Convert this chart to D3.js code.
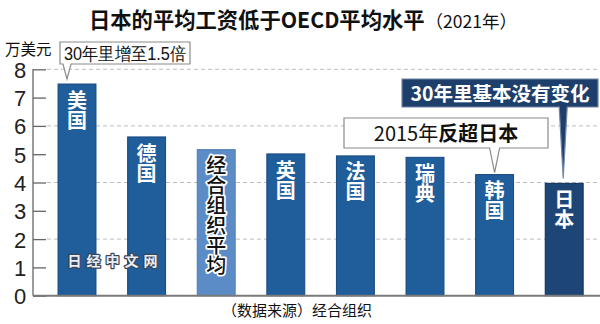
<!DOCTYPE html>
<html><head><meta charset="utf-8">
<script src="https://cdn.jsdelivr.net/npm/d3@7"></script>
<style>
html,body{margin:0;padding:0;background:#fff;}
svg{display:block;}
</style></head>
<body>
<svg id="c" width="600" height="324"></svg>
<script>
const categories = ["美国","德国","经合组织平均","英国","法国","瑞典","韩国","日本"];
const values = [7.48, 5.61, 5.16, 5.01, 4.94, 4.89, 4.28, 3.97];
const yTicks = [0,1,2,3,4,5,6,7,8];
const gridTicks = [2,4,6,8];
const title = "日本的平均工资低于OECD平均水平";
const titleYear = "（2021年）";
const unitLabel = "万美元";
const sourceText = "（数据来源）经合组织";
const noteUS = "30年里增至1.5倍";
const noteKR = ["2015年","反超日本"];
const noteJP = "30年里基本没有变化";
const watermark = "日经中文网";

const CJK = "'Noto Sans CJK SC','Noto Sans',sans-serif";
const NARROW = "'Liberation Sans Narrow','Arial Narrow','Liberation Sans',sans-serif";

const svg = d3.select("#c");
const x = d3.scaleBand().domain(categories).range([42.2, 599]).paddingInner(0.455).paddingOuter(0.2275);
const y = d3.scaleLinear().domain([0, 8]).range([295.7, 69.3]);

// gridlines
svg.append("g").selectAll("line").data(gridTicks).join("line")
  .attr("x1", 47).attr("x2", 600)
  .attr("y1", d => y(d)).attr("y2", d => y(d))
  .attr("stroke", "#bdbdbd").attr("stroke-width", 1).attr("stroke-dasharray", "4,3");

// y axis
const yAxis = d3.axisLeft(y).tickValues(yTicks).tickSize(13).tickPadding(7).tickFormat(d3.format("d"));
const ga = svg.append("g").attr("transform", "translate(46,0)").call(yAxis);
ga.select(".domain").remove();
ga.selectAll(".tick line").attr("stroke", "#666").attr("stroke-width", 1.3);
ga.selectAll(".tick text").attr("font-family", NARROW).attr("font-size", 22).attr("fill", "#222")
  .attr("x", -26).attr("text-anchor", "middle").attr("dy", "0.36em");
svg.append("line").attr("x1", 33).attr("x2", 33).attr("y1", y(8)).attr("y2", y(0))
  .attr("stroke", "#666").attr("stroke-width", 1.3);

// bars
const colorOf = d => d === "经合组织平均" ? "#5b8cc5" : d === "日本" ? "#1d4677" : "#1f5d9b";
const strokeOf = d => d === "经合组织平均" ? "#4a7cb6" : d === "日本" ? "#0f2c58" : "#17497f";
svg.append("g").selectAll("rect").data(categories).join("rect")
  .attr("x", d => x(d)).attr("width", x.bandwidth())
  .attr("y", (d, i) => y(values[i])).attr("height", (d, i) => y(0) - y(values[i]))
  .attr("fill", colorOf).attr("stroke", strokeOf).attr("stroke-width", 1);

// baseline
svg.append("line").attr("x1", 33).attr("x2", 600).attr("y1", y(0)).attr("y2", y(0))
  .attr("stroke", "#7a7a7a").attr("stroke-width", 2);

// bar labels (vertical writing mode)
svg.append("g").selectAll("text").data(categories).join("text")
  .attr("x", d => x(d) + x.bandwidth() / 2)
  .attr("y", (d, i) => y(values[i]) + 6)
  .attr("writing-mode", "vertical-rl")
  .style("text-orientation", "upright")
  .attr("font-family", CJK).attr("font-size", 20)
  .attr("font-weight", d => d === "经合组织平均" ? 500 : 700)
  .attr("fill", d => d === "经合组织平均" ? "#111" : "#fff")
  .attr("stroke", d => d === "经合组织平均" ? "#fff" : "none")
  .attr("stroke-width", 3.5).attr("paint-order", "stroke").attr("stroke-linejoin", "round")
  .text(d => d);

// watermark
svg.append("text").attr("x", 115).attr("y", 266).attr("text-anchor", "middle")
  .attr("font-family", CJK).attr("font-size", 14).attr("font-weight", 700).attr("letter-spacing", 5)
  .attr("fill", "#e9eef5").attr("stroke", "#3a4656").attr("stroke-width", 2.5)
  .attr("paint-order", "stroke").attr("stroke-linejoin", "round").text(watermark);

// title
const tt = svg.append("text").attr("x", 89).attr("y", 28).attr("font-family", CJK).attr("fill", "#111");
tt.append("tspan").attr("font-size", 21.3).attr("font-weight", 700).text(title);
tt.append("tspan").attr("font-size", 17.5).attr("font-weight", 400).attr("dx", 1).text(titleYear);

// unit
svg.append("text").attr("x", 5).attr("y", 55).attr("font-family", CJK).attr("font-size", 15.5).attr("fill", "#111").text(unitLabel);

// source
svg.append("text").attr("x", 222).attr("y", 316).attr("font-family", CJK).attr("font-size", 15).attr("fill", "#111").text(sourceText);

// callout helper
function callout(bx, by, bw, bh, tipX, tipY, baseHalf, fill, stroke) {
  const path = d3.path();
  const b = by + bh;
  path.moveTo(bx, by);
  path.lineTo(bx + bw, by);
  path.lineTo(bx + bw, b);
  path.lineTo(tipX + baseHalf, b);
  path.lineTo(tipX, tipY);
  path.lineTo(tipX - baseHalf, b);
  path.lineTo(bx, b);
  path.closePath();
  svg.append("path").attr("d", path.toString()).attr("fill", fill).attr("stroke", stroke).attr("stroke-width", 1.2);
}

// US callout
const usX = x("美国") + x.bandwidth() / 2;
callout(60, 42, 130, 22, usX - 10, y(values[0]) - 5, 4, "#fff", "#8a8a8a");
svg.append("text").attr("x", 125).attr("y", 60).attr("text-anchor", "middle")
  .attr("font-family", NARROW).attr("font-size", 18).attr("fill", "#111")
  .attr("textLength", 122).attr("lengthAdjust", "spacingAndGlyphs").text(noteUS);

// Korea callout
const krX = x("韩国") + x.bandwidth() / 2;
callout(344, 118, 204, 30, krX, y(values[6]) - 2, 5, "#fff", "#8a8a8a");
const kt = svg.append("text").attr("x", 446).attr("y", 141).attr("text-anchor", "middle")
  .attr("font-family", CJK).attr("font-size", 20).attr("fill", "#111");
kt.append("tspan").attr("font-weight", 400).text(noteKR[0]);
kt.append("tspan").attr("font-weight", 700).text(noteKR[1]);

// Japan callout
const jpX = x("日本") + x.bandwidth() / 2;
callout(402, 79, 196, 28, jpX - 1, y(values[7]) - 5, 4, "#1e3f6b", "#6f86a6");
svg.append("text").attr("x", 500).attr("y", 101).attr("text-anchor", "middle")
  .attr("font-family", CJK).attr("font-size", 19.5).attr("font-weight", 700).attr("fill", "#fff").text(noteJP);
</script>
</body></html>
